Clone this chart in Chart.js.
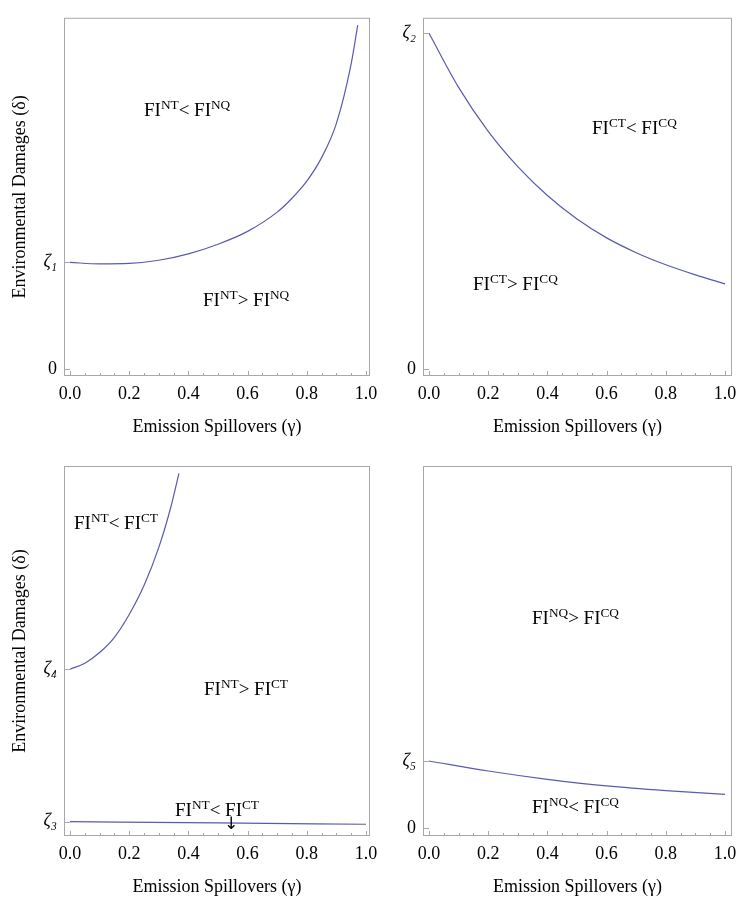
<!DOCTYPE html>
<html lang="en">
<head>
  <meta charset="UTF-8">
  <title>Emission Spillovers vs Environmental Damages</title>
  <script src="https://cdn.jsdelivr.net/npm/chart.js"></script>
  <style>
    body { margin: 0; background: #fff; }
    #wrap { position: relative; width: 740px; height: 904px; overflow: hidden; }
    canvas { position: absolute; }
    .lab {
      position: absolute;
      font-family: 'Liberation Serif', 'DejaVu Serif', serif;
      font-size: 19px;
      line-height: 20px;
      white-space: nowrap;
      color: #000;
    }
    .lab sup { font-size: 70%; vertical-align: 0; position: relative; top: -0.5em; }
    .arrow { font-family: 'DejaVu Sans', sans-serif; font-size: 17px; line-height: 17px; }
  </style>
</head>
<body>
<div id="wrap">
  <canvas id="c1" width="380" height="445" style="left:0;top:0"></canvas>
  <canvas id="c2" width="368" height="445" style="left:372px;top:0"></canvas>
  <canvas id="c3" width="380" height="464" style="left:0;top:440px"></canvas>
  <canvas id="c4" width="368" height="464" style="left:372px;top:440px"></canvas>

  <!-- region labels -->
  <div class="lab" style="left:144px;top:100px">FI<sup>NT</sup>&lt; FI<sup>NQ</sup></div>
  <div class="lab" style="left:203px;top:290px">FI<sup>NT</sup>&gt; FI<sup>NQ</sup></div>
  <div class="lab" style="left:592px;top:118px">FI<sup>CT</sup>&lt; FI<sup>CQ</sup></div>
  <div class="lab" style="left:473px;top:274px">FI<sup>CT</sup>&gt; FI<sup>CQ</sup></div>
  <div class="lab" style="left:74px;top:513px">FI<sup>NT</sup>&lt; FI<sup>CT</sup></div>
  <div class="lab" style="left:204px;top:679px">FI<sup>NT</sup>&gt; FI<sup>CT</sup></div>
  <div class="lab" style="left:175px;top:800px">FI<sup>NT</sup>&lt; FI<sup>CT</sup></div>
  <div class="lab arrow" style="left:224px;top:815px">↓</div>
  <div class="lab" style="left:532px;top:608px">FI<sup>NQ</sup>&gt; FI<sup>CQ</sup></div>
  <div class="lab" style="left:532px;top:797px">FI<sup>NQ</sup>&lt; FI<sup>CQ</sup></div>
</div>

<script>
  // x axis: emission spillovers (gamma)
  const xTicks = [0, 0.2, 0.4, 0.6, 0.8, 1.0];
  const xTickLabels = ['0.0', '0.2', '0.4', '0.6', '0.8', '1.0'];

  // top-left: NT vs NQ boundary (delta scaled so that zeta1 = 1)
  const ntnqGamma = [0, 0.1, 0.2, 0.3, 0.4, 0.5, 0.6, 0.7, 0.75, 0.8, 0.85, 0.9, 0.95, 0.972];
  const ntnqDelta = [1.0, 0.986, 0.99, 1.02, 1.08, 1.17, 1.29, 1.47, 1.60, 1.76, 1.98, 2.30, 2.86, 3.22];
  const ntnqYTicks = [0, 1];
  const ntnqYLabels = ['0', 'ζ₁'];

  // top-right: CT vs CQ boundary (zeta2 = 1)
  const ctcqGamma = [0, 0.1, 0.2, 0.3, 0.4, 0.5, 0.6, 0.7, 0.8, 0.9, 1.0];
  const ctcqDelta = [1.0, 0.839, 0.708, 0.603, 0.517, 0.447, 0.391, 0.347, 0.311, 0.281, 0.254];
  const ctcqYTicks = [0, 1];
  const ctcqYLabels = ['0', 'ζ₂'];

  // bottom-left: NT vs CT, two boundaries (zeta3 = 1, zeta4 = 2)
  const ntctUpperGamma = [0, 0.05, 0.1, 0.15, 0.2, 0.25, 0.3, 0.34, 0.368];
  const ntctUpperDelta = [2.0, 2.04, 2.11, 2.21, 2.36, 2.55, 2.80, 3.06, 3.286];
  const ntctLowerGamma = [0, 0.5, 1.0];
  const ntctLowerDelta = [1.0, 0.992, 0.983];
  const ntctYTicks = [1, 2];
  const ntctYLabels = ['ζ₃', 'ζ₄'];

  // bottom-right: NQ vs CQ boundary (zeta5 = 1)
  const nqcqGamma = [0, 0.2, 0.4, 0.6, 0.8, 1.0];
  const nqcqDelta = [1.0, 0.851, 0.728, 0.629, 0.559, 0.505];
  const nqcqYTicks = [0, 1];
  const nqcqYLabels = ['0', 'ζ₅'];

  const serif = "'Liberation Serif', 'DejaVu Serif', serif";
  const lineColor = '#5a5ab0';

  function pts(xs, ys) {
    return xs.map((x, i) => ({ x: x, y: ys[i] }));
  }

  // frame around the plot + inward ticks, Mathematica style
  const frameTicks = {
    id: 'frameTicks',
    afterDraw(chart) {
      const { ctx, chartArea: a, scales: { x, y } } = chart;
      ctx.save();
      ctx.strokeStyle = '#a8a8a8';
      ctx.lineWidth = 1;
      ctx.strokeRect(a.left + 0.5, a.top + 0.5, a.right - a.left - 1, a.bottom - a.top - 1);
      ctx.beginPath();
      for (let i = 0; i <= 20; i++) {
        const px = Math.round(x.getPixelForValue(i * 0.05)) + 0.5;
        const len = i % 4 === 0 ? 5 : 3;
        ctx.moveTo(px, a.bottom);
        ctx.lineTo(px, a.bottom - len);
      }
      y.ticks.forEach(t => {
        const py = Math.round(y.getPixelForValue(t.value)) + 0.5;
        ctx.moveTo(a.left, py);
        ctx.lineTo(a.left + 6, py);
      });
      ctx.stroke();
      ctx.restore();
    }
  };

  function makeChart(id, datasets, cfg) {
    const ctx = document.getElementById(id).getContext('2d');
    return new Chart(ctx, {
      type: 'line',
      data: {
        datasets: datasets.map(d => ({
          data: d,
          borderColor: lineColor,
          borderWidth: 1.2,
          pointRadius: 0,
          fill: false,
          cubicInterpolationMode: 'monotone'
        }))
      },
      options: {
        responsive: false,
        maintainAspectRatio: false,
        animation: false,
        events: [],
        layout: { padding: { left: 0, top: cfg.top, right: cfg.right, bottom: 0 } },
        plugins: { legend: { display: false }, tooltip: { enabled: false } },
        scales: {
          x: {
            type: 'linear',
            min: -0.0203,
            max: cfg.xMax,
            grid: { display: false, drawTicks: false },
            border: { display: false },
            afterBuildTicks: s => { s.ticks = xTicks.map(v => ({ value: v })); },
            afterFit: s => { s.height = cfg.xHeight; s.paddingLeft = 0; s.paddingRight = 0; },
            ticks: {
              padding: 7,
              color: '#000',
              maxRotation: 0,
              font: { family: serif, size: 18 },
              callback: (v) => xTickLabels[xTicks.indexOf(v)]
            },
            title: {
              display: true,
              text: 'Emission Spillovers (γ)',
              color: '#000',
              font: { family: serif, size: 18 },
              padding: { top: 0, bottom: cfg.xTitlePad }
            }
          },
          y: {
            type: 'linear',
            min: cfg.yMin,
            max: cfg.yMax,
            grid: { display: false, drawTicks: false },
            border: { display: false },
            afterBuildTicks: s => { s.ticks = cfg.yTicks.map(v => ({ value: v })); },
            afterFit: s => { s.width = cfg.yWidth; },
            ticks: {
              padding: 7,
              color: '#000',
              font: (c) => ({ family: serif, size: 18, style: c.tick && c.tick.value === 0 ? 'normal' : 'italic' }),
              callback: (v) => cfg.yLabels[cfg.yTicks.indexOf(v)]
            },
            title: {
              display: cfg.yTitle,
              text: 'Environmental Damages (δ)',
              color: '#000',
              font: { family: serif, size: 18 },
              padding: { top: 9, bottom: 0 }
            }
          }
        }
      },
      plugins: [frameTicks]
    });
  }

  makeChart('c1', [pts(ntnqGamma, ntnqDelta)], {
    top: 5, right: 10, xHeight: 69, yWidth: 64, xTitlePad: 7, xMax: 1.0135,
    yMin: -0.063, yMax: 3.288, yTicks: ntnqYTicks, yLabels: ntnqYLabels, yTitle: true
  });

  makeChart('c2', [pts(ctcqGamma, ctcqDelta)], {
    top: 5, right: 8, xHeight: 69, yWidth: 51, xTitlePad: 7, xMax: 1.0236,
    yMin: -0.020, yMax: 1.046, yTicks: ctcqYTicks, yLabels: ctcqYLabels, yTitle: false
  });

  makeChart('c3', [pts(ntctUpperGamma, ntctUpperDelta), pts(ntctLowerGamma, ntctLowerDelta)], {
    top: 26, right: 10, xHeight: 68, yWidth: 64, xTitlePad: 6, xMax: 1.0135,
    yMin: 0.906, yMax: 3.334, yTicks: ntctYTicks, yLabels: ntctYLabels, yTitle: true
  });

  makeChart('c4', [pts(nqcqGamma, nqcqDelta)], {
    top: 26, right: 8, xHeight: 68, yWidth: 51, xTitlePad: 6, xMax: 1.0236,
    yMin: -0.114, yMax: 5.38, yTicks: nqcqYTicks, yLabels: nqcqYLabels, yTitle: false
  });
</script>
</body>
</html>
